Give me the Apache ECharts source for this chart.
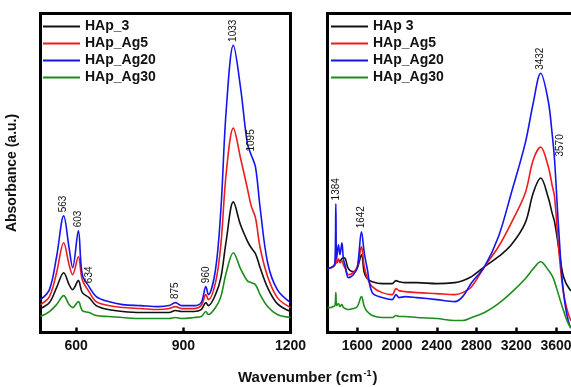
<!DOCTYPE html>
<html>
<head>
<meta charset="utf-8">
<script src="https://cdn.jsdelivr.net/npm/echarts@6/dist/echarts.min.js"></script>
<style>
  html, body { margin: 0; padding: 0; background: #fff; }
  #chart { width: 571px; height: 387px; }
</style>
</head>
<body>
<div id="chart"></div>
<script>
// left panel: 500-1200 cm-1
const leftWn = [500, 525, 545, 565, 580, 590, 606, 617, 636, 656, 690, 730, 780, 830, 860, 878, 895, 930, 950, 963, 970, 990, 1005, 1020, 1040, 1060, 1079, 1090, 1102, 1115, 1136, 1163, 1200]
const leftHap3 = [24, 30, 45, 60, 48, 43, 52, 40, 35, 27, 23, 21, 20, 20, 20, 22, 21, 21, 23, 30, 27, 38, 55, 92, 131, 108, 92, 85, 79, 65, 45, 29, 21]
const leftAg5 = [28, 36, 60, 90, 68, 58, 76, 53, 41, 31, 27, 25, 24, 23, 24, 26, 24, 24, 27, 38, 33, 50, 88, 160, 205, 175, 145, 127, 115, 85, 56, 35, 25]
const leftAg20 = [33, 43, 76, 117, 85, 65, 102, 58, 46, 36, 31, 28, 27, 26, 27, 30, 27, 27, 30, 46, 38, 63, 123, 223, 288, 246, 190, 178, 166, 125, 70, 43, 30]
const leftAg30 = [16, 21, 28, 37, 28, 25, 31, 22, 20, 17, 16, 15, 14, 14, 14, 15, 14, 15, 16, 21, 18, 25, 36, 60, 80, 64, 52, 50, 48, 38, 26, 18, 15]

// right panel: 1300-4000 cm-1 (cut off at the page edge)
const rightWn = [1300, 1330, 1355, 1375, 1384, 1392, 1410, 1425, 1445, 1460, 1480, 1510, 1560, 1600, 1642, 1670, 1700, 1750, 1850, 1950, 1990, 2020, 2080, 2200, 2400, 2580, 2660, 2750, 2880, 3020, 3150, 3290, 3370, 3445, 3520, 3560, 3585, 3625, 3675, 3740, 3800, 3900, 4000]
const rightHap3 = [64, 65, 66, 68, 72, 70, 72, 72, 74, 75, 74, 64, 61, 65, 78, 60, 54, 51, 49, 49, 52, 51, 50, 50, 49, 50, 52, 56, 66, 76, 88, 110, 140, 155, 136, 120, 111, 86, 56, 43, 40, 38, 38]
const rightAg5 = [64, 65, 66, 68, 78, 70, 74, 70, 72, 68, 64, 58, 60, 66, 86, 66, 55, 46, 40, 38, 44, 42, 41, 40, 39, 38, 40, 46, 66, 86, 110, 140, 173, 186, 167, 148, 136, 86, 40, 14, 8, 6, 5]
const rightAg20 = [64, 65, 66, 70, 129, 74, 88, 78, 90, 74, 66, 55, 58, 65, 101, 80, 64, 40, 35, 33, 38, 35, 36, 35, 33, 31, 36, 50, 66, 96, 140, 190, 230, 260, 233, 200, 173, 106, 40, 6, 3, 2, 2]
const rightAg30 = [25, 25, 26, 27, 40, 27, 29, 26, 28, 25, 24, 23, 24, 26, 36, 26, 21, 17, 15, 15, 17, 16, 16, 15, 14, 12, 12, 15, 20, 29, 40, 54, 64, 71, 63, 57, 51, 38, 22, 6, 3, 2, 2]

const leftNames = ['HAp_3', 'HAp_Ag5', 'HAp_Ag20', 'HAp_Ag30']
const rightNames = ['HAp 3', 'HAp_Ag5', 'HAp_Ag20', 'HAp_Ag30']
const colors = ['#111111', '#ee1c1c', '#1414f0', '#1c8c1c']

const leftPeaks = [[565, 117, '563'], [606, 102, '603'], [636, 46, '634'], [878, 30, '875'], [963, 46, '960'], [1040, 288, '1033'], [1090, 178, '1095']]
const rightPeaks = [[1384, 129, '1384'], [1642, 101, '1642'], [3445, 260, '3432'], [3585, 173, '3570']]
const leftTicks = [600, 900, 1200]
const rightTicks = [1600, 2000, 2400, 2800, 3200, 3600]

const FONT = "'Liberation Sans', Arial, sans-serif"

function zip(xs, ys) {
  return xs.map((x, i) => [x, ys[i]])
}

function peakMarks(peaks) {
  return {
    symbol: 'circle',
    symbolSize: 1,
    itemStyle: { color: 'rgba(0,0,0,0)' },
    label: {
      show: true,
      position: 'top',
      distance: 3,
      rotate: 90,
      align: 'left',
      verticalAlign: 'middle',
      color: '#111',
      fontSize: 10,
      fontFamily: FONT,
      formatter: (p) => p.data.text,
    },
    data: peaks.map(([x, y, text]) => ({
      coord: [x, y],
      text,
      // the 3570 label sits a little to the right of the shoulder
      label: text === '3570' ? { offset: [0, 6] } : undefined,
    })),
  }
}

function lineSeries(name, data, idx, axisIndex, marks) {
  return {
    name,
    type: 'line',
    xAxisIndex: axisIndex,
    yAxisIndex: axisIndex,
    data,
    smooth: 0.35,
    showSymbol: false,
    symbol: 'none',
    lineStyle: { width: 1.6, color: colors[idx] },
    itemStyle: { color: colors[idx] },
    markPoint: marks,
    animation: false,
  }
}

function xAxis(gridIndex, min, max, ticks) {
  return {
    type: 'value',
    gridIndex,
    min,
    max,
    axisLine: { show: false },
    splitLine: { show: false },
    axisTick: {
      show: true,
      inside: true,
      length: 5,
      customValues: ticks,
      lineStyle: { color: '#000', width: 2.5 },
    },
    axisLabel: {
      show: true,
      customValues: ticks,
      formatter: (v) => String(v),
      margin: 7,
      color: '#111',
      fontSize: 14,
      fontWeight: 'bold',
      fontFamily: FONT,
    },
  }
}

function yAxis(gridIndex, name) {
  return {
    type: 'value',
    gridIndex,
    min: 0,
    max: 320,
    name,
    nameLocation: 'middle',
    nameRotate: 90,
    nameGap: 21,
    nameTextStyle: { color: '#111', fontSize: 14, fontWeight: 'bold', fontFamily: FONT },
    axisLine: { show: false },
    axisTick: { show: false },
    axisLabel: { show: false },
    splitLine: { show: false },
  }
}

function legend(names, left) {
  return {
    orient: 'vertical',
    left,
    top: 18,
    padding: 0,
    data: names,
    icon: 'rect',
    itemWidth: 37,
    itemHeight: 2,
    itemGap: 0,
    textStyle: { color: '#111', fontSize: 14, fontWeight: 'bold', fontFamily: FONT, lineHeight: 17 },
  }
}

const series = []
const leftData = [leftHap3, leftAg5, leftAg20, leftAg30]
const rightData = [rightHap3, rightAg5, rightAg20, rightAg30]
leftNames.forEach((name, i) => {
  series.push(lineSeries(name, zip(leftWn, leftData[i]), i, 0, i === 2 ? peakMarks(leftPeaks) : undefined))
})
rightNames.forEach((name, i) => {
  series.push(lineSeries(name, zip(rightWn, rightData[i]), i, 1, i === 2 ? peakMarks(rightPeaks) : undefined))
})

const chart = echarts.init(document.getElementById('chart'), null, { renderer: 'canvas' })
chart.setOption({
  animation: false,
  backgroundColor: '#fff',
  title: {
    text: '{t|Wavenumber (cm}{sup|-1}{t|)}',
    left: 238,
    top: 369,
    padding: 0,
    textStyle: {
      rich: {
        t: { fontSize: 15, fontWeight: 'bold', color: '#111', fontFamily: FONT },
        sup: { fontSize: 9, fontWeight: 'bold', color: '#111', fontFamily: FONT, verticalAlign: 'top', padding: [0, 1, 8, 1] },
      },
    },
  },
  legend: [legend(leftNames, 43), legend(rightNames, 331)],
  grid: [
    { left: 40.5, top: 13.5, width: 250, height: 319, outerBoundsMode: 'none', show: true, borderColor: '#000', borderWidth: 3, backgroundColor: 'transparent' },
    { left: 327.5, top: 13.5, width: 268.3, height: 319, outerBoundsMode: 'none', show: true, borderColor: '#000', borderWidth: 3, backgroundColor: 'transparent' },
  ],
  xAxis: [xAxis(0, 500, 1200, leftTicks), xAxis(1, 1300, 4000, rightTicks)],
  yAxis: [yAxis(0, 'Absorbance (a.u.)'), yAxis(1, '')],
  series,
})
</script>
</body>
</html>
